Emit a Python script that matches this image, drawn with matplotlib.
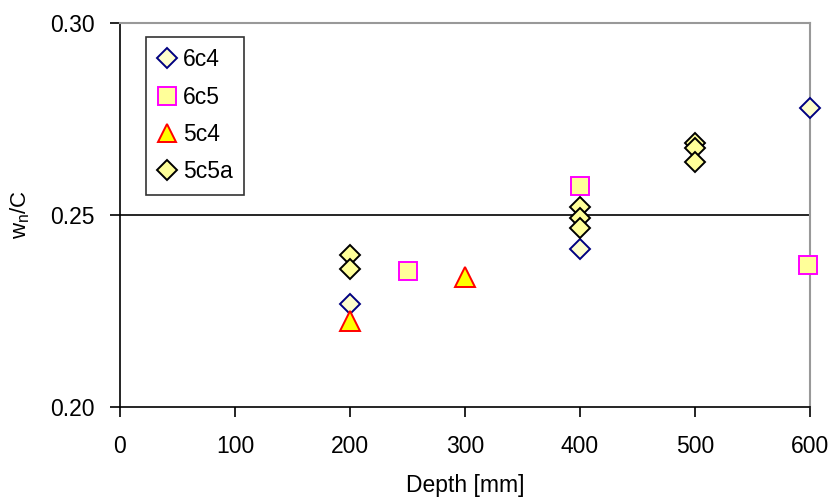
import matplotlib
matplotlib.use("Agg")
import matplotlib.pyplot as plt
from matplotlib.ticker import FormatStrFormatter

plt.rcParams['font.family'] = ['Liberation Sans', 'DejaVu Sans']
plt.rcParams['mathtext.default'] = 'regular'

# Data
x_6c4 = [200, 400, 600]
y_6c4 = [0.2268, 0.2411, 0.2778]
x_6c5 = [250, 400, 598]
y_6c5 = [0.2354, 0.2576, 0.2370]
x_5c4 = [200, 300]
y_5c4 = [0.2224, 0.2338]
x_5c5a = [200, 200, 400, 400, 400, 500, 500, 500]
y_5c5a = [0.2396, 0.2359, 0.2520, 0.2491, 0.2465, 0.2688, 0.2674, 0.2637]
x_ticks = [0, 100, 200, 300, 400, 500, 600]
y_ticks = [0.20, 0.25, 0.30]
ref_line = 0.25

fig = plt.figure(figsize=(8.32, 4.98), dpi=100)
ax = fig.add_axes([120/832, 1-407/498, 690/832, 384/498])

ax.axhline(ref_line, color='black', lw=1.2, zorder=1)

ax.plot(x_6c4, y_6c4, ls='none', marker='D', ms=10.5, mfc='#FFFFCC', mec='#000080', mew=1.4,
        label='6c4', clip_on=False, zorder=3)
ax.plot(x_6c5, y_6c5, ls='none', marker='s', ms=13, mfc='#FFFF99', mec='#FF00FF', mew=1.4,
        label='6c5', clip_on=False, zorder=3)
ax.plot(x_5c4, y_5c4, ls='none', marker='^', ms=14, mfc='#FFFF00', mec='#FF0000', mew=1.4,
        label='5c4', clip_on=False, zorder=3)
ax.plot(x_5c5a, y_5c5a, ls='none', marker='D', ms=10.5, mfc='#FFFF99', mec='black', mew=1.4,
        label='5c5a', clip_on=False, zorder=3)

ax.set_xlim(0, 600)
ax.set_ylim(0.20, 0.30)
ax.set_xticks(x_ticks)
ax.set_yticks(y_ticks)
ax.yaxis.set_major_formatter(FormatStrFormatter('%.2f'))
ax.tick_params(axis='both', direction='out', length=7, width=1.2, labelsize=16.5, color='black')
ax.tick_params(axis='x', pad=13)
ax.tick_params(axis='y', pad=11)

for s in ['left', 'bottom']:
    ax.spines[s].set_color('black')
    ax.spines[s].set_linewidth(1.2)
for s in ['top', 'right']:
    ax.spines[s].set_color('#999999')
    ax.spines[s].set_linewidth(1.5)

ax.set_xlabel('Depth [mm]', fontsize=16.5, labelpad=12)
ax.set_ylabel('w$_n$/C', fontsize=16)
ax.yaxis.set_label_coords(-0.128, 0.5)

leg = ax.legend(loc='upper left', bbox_to_anchor=(26/690, (407-37)/384), borderaxespad=0,
                fancybox=False, frameon=True, fontsize=16.5, handlelength=0.8, handletextpad=0.3,
                labelspacing=0.62, borderpad=0.5, markerscale=0.95)
leg.get_frame().set_edgecolor('black')
leg.get_frame().set_linewidth(1.2)

fig.savefig('out.png', dpi=100)
